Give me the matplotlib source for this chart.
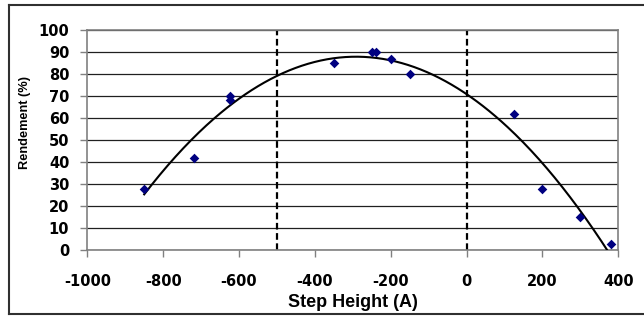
import matplotlib
matplotlib.use("Agg")
import matplotlib.pyplot as plt
import numpy as np
from matplotlib.lines import Line2D

step_height = [-850, -720, -625, -625, -350, -250, -240, -200, -150, 125, 200, 300, 380]
rendement = [28, 42, 68, 70, 85, 90, 90, 87, 80, 62, 28, 15, 3]
limits = [-500, 0]
x_ticks = [-1000, -800, -600, -400, -200, 0, 200, 400]
y_ticks = list(range(0, 101, 10))

TICK_FONT = dict(family="DejaVu Sans", weight="bold", size=10.5)

fig = plt.figure(figsize=(6.44, 3.16), dpi=100)
ax = fig.add_axes([0.1356, 0.2079, 0.9601 - 0.1356, 0.9051 - 0.2079])

# polynomial trendline (like the spreadsheet one)
coef = np.polyfit(step_height, rendement, 2)
xs = np.linspace(min(step_height), max(step_height), 300)
ax.plot(xs, np.polyval(coef, xs), color="black", lw=1.5, zorder=3)

ax.scatter(step_height, rendement, marker="D", s=24, color="#000080", zorder=4, linewidths=0)

for xv in limits:
    ax.axvline(xv, color="black", lw=1.6, ls=(0, (3, 1.6)), zorder=2)

ax.set_xlim(-1000, 400)
ax.set_ylim(0, 100)
ax.set_xticks(x_ticks)
ax.set_yticks(y_ticks)
ax.set_xticklabels([str(v) for v in x_ticks], fontdict=TICK_FONT)
ax.set_yticklabels([str(v) for v in y_ticks], fontdict=TICK_FONT)
ax.tick_params(direction="out", length=5, width=1, color="#808080")
ax.tick_params(axis="x", pad=12)
ax.tick_params(axis="y", pad=8)
ax.grid(axis="y", color="#202020", lw=0.9, zorder=1)
ax.set_axisbelow(True)
for sp in ax.spines.values():
    sp.set_color("#808080")
    sp.set_linewidth(1.2)

ax.set_xlabel("Step Height (A)", family="Liberation Sans", weight="bold", size=13, labelpad=4)
ax.set_ylabel("Rendement (%)", family="Liberation Sans", weight="bold", size=9.2)
ax.yaxis.set_label_coords(-0.106, 0.578)

# outer chart frame (right side runs off the image)
x0, y0, y1 = 9 / 644, 2 / 316, 311 / 316
for xd, yd in (([x0, 1.0], [y1, y1]), ([x0, 1.0], [y0, y0]), ([x0, x0], [y0, y1])):
    fig.add_artist(Line2D(xd, yd, transform=fig.transFigure, color="#303030", lw=1.5))

fig.savefig("out.png", dpi=100)
